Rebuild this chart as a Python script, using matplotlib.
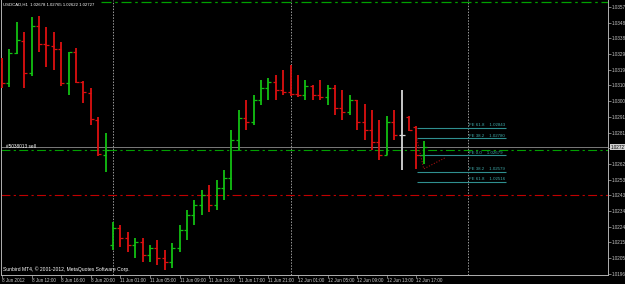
"""
USDCAD H1 bar chart, MT4 style (black background, OHLC bars)
"""

import numpy as np
import matplotlib
matplotlib.use('Agg')
import matplotlib.pyplot as plt
import matplotlib.transforms as mtransforms

# hourly bars, 8 Jun 2012 08:00 -> 12 Jun 2012 18:00
opens = [1.03242, 1.03115, 1.03297, 1.03369, 1.03176, 1.03460, 1.03351, 1.03339, 1.03321, 1.03115,
         1.03303, 1.03121, 1.03055, 1.02891, 1.02680, 1.02135, 1.02238, 1.02178, 1.02135, 1.02153,
         1.02075, 1.02117, 1.02056, 1.02032, 1.02117, 1.02226, 1.02317, 1.02377, 1.02438, 1.02377,
         1.02480, 1.02540, 1.02770, 1.02903, 1.02879, 1.03012, 1.03085, 1.03121, 1.03073, 1.03061,
         1.03049, 1.03043, 1.03097, 1.03043, 1.03031, 1.03085, 1.02964, 1.02940, 1.03012, 1.02879,
         1.02831, 1.02758, 1.02680, 1.02879, 1.02801, 1.02910, 1.02849, 1.02678]
highs = [1.03266, 1.03321, 1.03484, 1.03424, 1.03514, 1.03521, 1.03454, 1.03424, 1.03363, 1.03303,
         1.03327, 1.03127, 1.03085, 1.02910, 1.02813, 1.02274, 1.02256, 1.02214, 1.02178, 1.02178,
         1.02135, 1.02165, 1.02105, 1.02147, 1.02256, 1.02347, 1.02407, 1.02468, 1.02498, 1.02528,
         1.02589, 1.02831, 1.02952, 1.03012, 1.03043, 1.03133, 1.03145, 1.03164, 1.03194, 1.03224,
         1.03164, 1.03133, 1.03103, 1.03133, 1.03103, 1.03103, 1.03073, 1.03043, 1.03012, 1.02988,
         1.02952, 1.02891, 1.02916, 1.02952, 1.03073, 1.02916, 1.02855, 1.02765]
lows = [1.03085, 1.03091, 1.03291, 1.03085, 1.03158, 1.03303, 1.03212, 1.03194, 1.03097, 1.03043,
        1.03115, 1.02994, 1.02861, 1.02674, 1.02577, 1.02105, 1.02123, 1.02093, 1.02056, 1.02032,
        1.02032, 1.02014, 1.01984, 1.01996, 1.02093, 1.02165, 1.02256, 1.02317, 1.02335, 1.02347,
        1.02407, 1.02468, 1.02710, 1.02831, 1.02861, 1.02982, 1.03012, 1.03012, 1.03043, 1.03037,
        1.03031, 1.03012, 1.03012, 1.03012, 1.02982, 1.02922, 1.02891, 1.02922, 1.02831, 1.02770,
        1.02710, 1.02649, 1.02680, 1.02770, 1.02589, 1.02825, 1.02595, 1.02622]
closes = [1.03115, 1.03297, 1.03375, 1.03176, 1.03460, 1.03351, 1.03345, 1.03321, 1.03115, 1.03303,
          1.03121, 1.03061, 1.02897, 1.02686, 1.02710, 1.02238, 1.02178, 1.02135, 1.02153, 1.02075,
          1.02117, 1.02056, 1.02032, 1.02117, 1.02226, 1.02317, 1.02377, 1.02438, 1.02377, 1.02480,
          1.02540, 1.02770, 1.02903, 1.02879, 1.03012, 1.03085, 1.03121, 1.03073, 1.03061, 1.03049,
          1.03043, 1.03097, 1.03043, 1.03031, 1.03085, 1.02964, 1.02940, 1.03012, 1.02879, 1.02831,
          1.02758, 1.02680, 1.02879, 1.02801, 1.02801, 1.02831, 1.02678, 1.02727]

time_labels = ['8 Jun 2012', '8 Jun 12:00', '8 Jun 16:00', '8 Jun 20:00', '11 Jun 01:00',
               '11 Jun 05:00', '11 Jun 09:00', '11 Jun 13:00', '11 Jun 17:00', '11 Jun 21:00',
               '12 Jun 01:00', '12 Jun 05:00', '12 Jun 09:00', '12 Jun 13:00', '12 Jun 17:00']
price_ticks = [1.01960, 1.02055, 1.02150, 1.02245, 1.02340, 1.02435, 1.02530, 1.02625, 1.02720,
               1.02815, 1.02910, 1.03005, 1.03100, 1.03195, 1.03290, 1.03385, 1.03480, 1.03575]
day_starts = [15, 39, 63]

fib_names = ['FE 61.8', 'FE 38.2', 'FE 0.0', 'FE 38.2', 'FE 61.8']
fib_prices = [1.02843, 1.02780, 1.02679, 1.02579, 1.02516]
fe_x = [56, 57, 60]
fe_y = [1.02790, 1.02595, 1.02665]

order_price = 1.02710
stop_price = 1.02440
top_price = 1.03602
symbol = 'USDCAD,H1'

UP, DOWN, DOJI = '#12c012', '#dd1010', '#d8d8d8'
FG = '#c8c8c8'
FONT = 'Liberation Sans'

fig = plt.figure(figsize=(6.25, 2.84), dpi=100, facecolor='black')
ax = fig.add_axes([0.0016, 9 / 284, 607 / 625, 275 / 284])
ax.set_facecolor('black')

idx = np.arange(len(opens))
o, h, l, c = map(np.array, (opens, highs, lows, closes))
cols = np.where(c > o, UP, np.where(c < o, DOWN, DOJI))

ax.vlines(idx, l, h, colors=cols, lw=1.3, zorder=3)
ax.hlines(o, idx - 0.4, idx, colors=cols, lw=0.9, zorder=3)
ax.hlines(c, idx, idx + 0.4, colors=cols, lw=0.9, zorder=3)

# period separators
for d in day_starts:
    ax.axvline(d, color='#9a9a9a', lw=0.7, ls=(0, (1.5, 1.5)), zorder=1)

# bid line, order lines
ax.axhline(closes[-1], color='#7a7a7a', lw=0.7, zorder=2)
ax.axhline(order_price, color='#00a000', lw=0.8, ls=(0, (8, 3, 2, 3)), zorder=2)
ax.axhline(stop_price, color='#c00000', lw=0.8, ls=(0, (8, 3, 2, 3)), zorder=2)
ax.axhline(top_price, xmin=0.165, color='#00a000', lw=0.9, ls=(0, (8, 3, 2, 3)), zorder=2)
ax.text(0.6, order_price + 0.00005, '#5038013 sell', color='white', fontsize=3.4,
        family=FONT, va='bottom', ha='left')

# fibo expansion
for name, p in zip(fib_names, fib_prices):
    ax.hlines(p, 56.1, 68.1, color='#2f8f8f', lw=0.8, zorder=2)
    ax.text(63.1, p + 0.00003, f'{name}    {p:.5f}', color='#3fa8a8', fontsize=3.2,
            family=FONT, va='bottom', ha='left')
ax.plot(fe_x, fe_y, color='#a01010', lw=0.8, ls=(0, (1, 1.5)), zorder=2)

ax.set_xlim(-0.14, 81.9)
ax.set_ylim(1.01953, 1.03617)

# axes look
ax.spines['top'].set_visible(False)
for s in ('left', 'right', 'bottom'):
    ax.spines[s].set_color('#b0b0b0')
    ax.spines[s].set_linewidth(0.7)

# the label under the current price box is hidden, as on the terminal
ax.yaxis.tick_right()
ax.set_yticks(price_ticks)
ax.set_yticklabels(['' if abs(p - closes[-1]) < 0.0002 else f'{p:.5f}' for p in price_ticks])
ax.set_xticks(np.arange(0, 4 * len(time_labels), 4))
ax.set_xticklabels(time_labels, ha='left')
ax.tick_params(colors='#b0b0b0', labelcolor=FG, labelsize=3.3, length=2, width=0.5, pad=1)
ax.tick_params(axis='x', pad=0.5)
for lab in ax.get_xticklabels() + ax.get_yticklabels():
    lab.set_family(FONT)

# current price box on the scale
trans = mtransforms.blended_transform_factory(ax.transAxes, ax.transData)
ax.text(1.004, closes[-1], f'{closes[-1]:.5f}', transform=trans, color='black', fontsize=3.3,
        family=FONT, va='center', ha='left', clip_on=False, zorder=10,
        bbox=dict(boxstyle='square,pad=0.15', fc='#d0d0d0', ec='none'))

# header and footer texts
ax.text(0.004, 0.992, f'{symbol}  {opens[-1]:.5f} {highs[-1]:.5f} {lows[-1]:.5f} {closes[-1]:.5f}',
        transform=ax.transAxes, color='white', fontsize=3.1, family=FONT, va='top', ha='left')
ax.text(0.004, 0.012, 'Sunbird MT4, \u00a9 2001-2012, MetaQuotes Software Corp.',
        transform=ax.transAxes, color='white', fontsize=3.6, family=FONT, va='bottom', ha='left')

fig.savefig('out.png', dpi=100, facecolor='black')
